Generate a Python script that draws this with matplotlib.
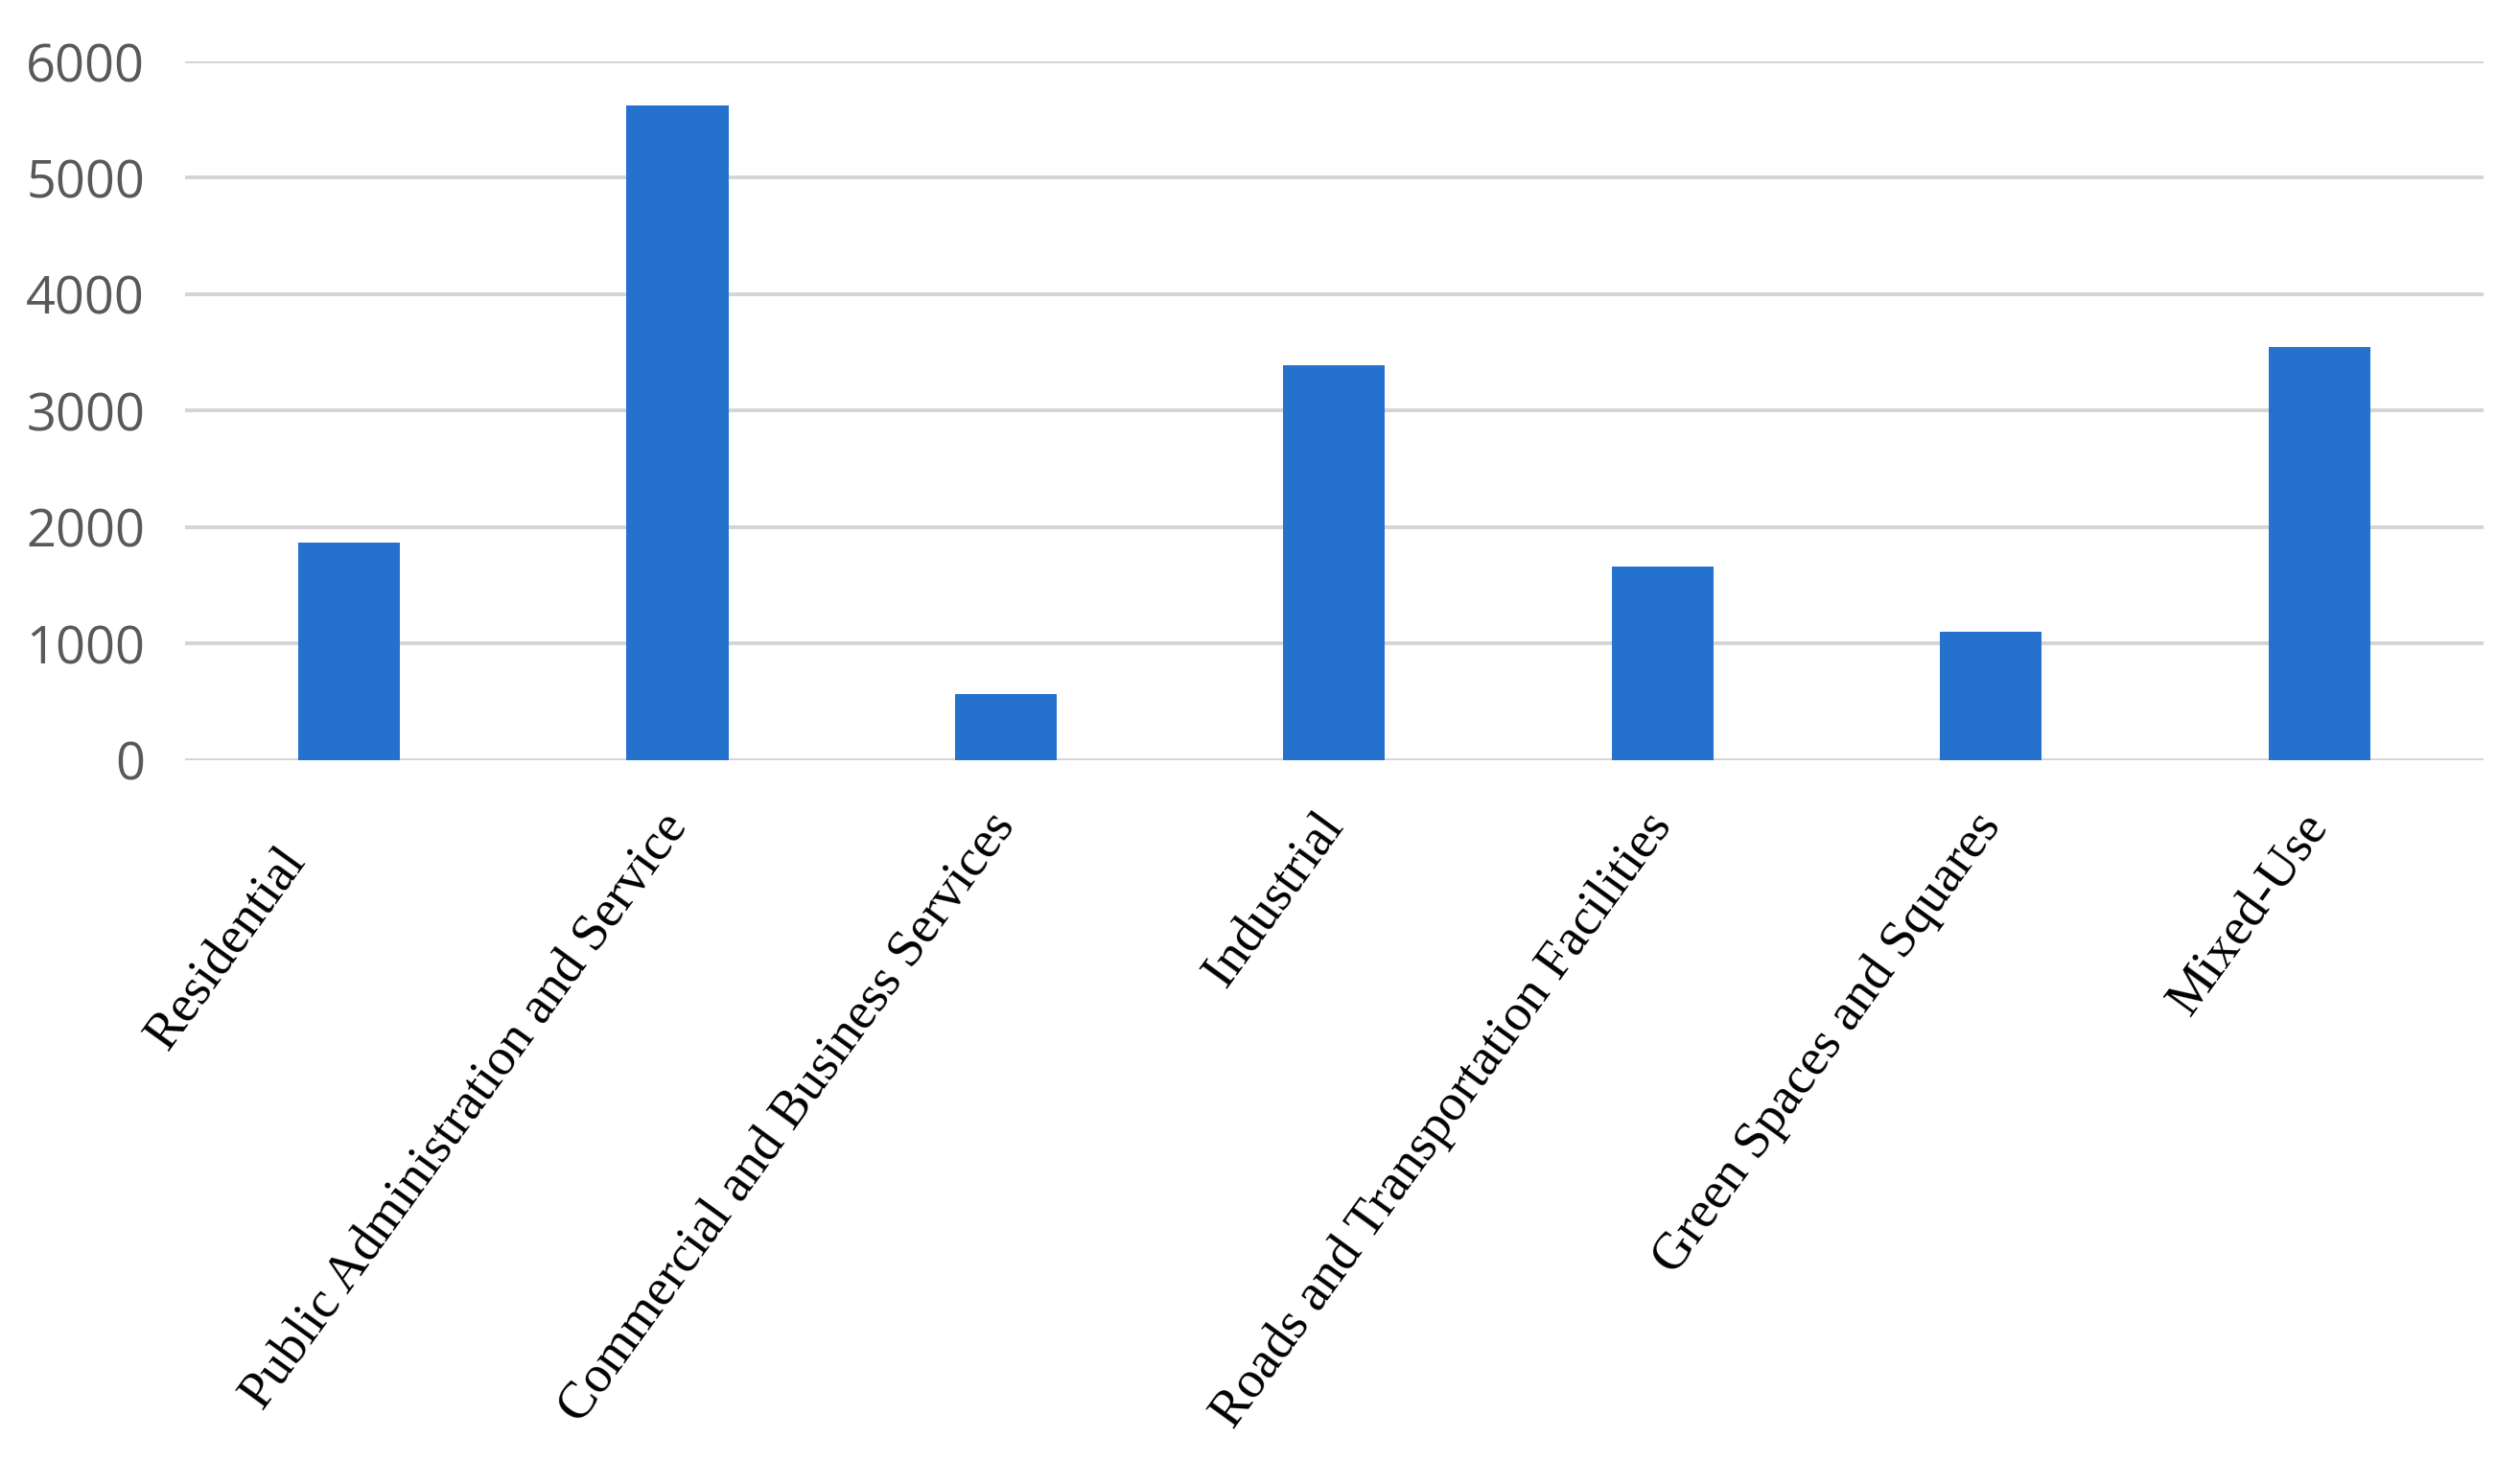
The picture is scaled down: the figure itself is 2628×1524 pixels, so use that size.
import matplotlib
matplotlib.use("Agg")
import matplotlib.pyplot as plt
import matplotlib.transforms as mtransforms
import numpy as np

# Land use categories and counts
categories = ["Residential",
              "Public Administration and Service",
              "Commercial and Business Services",
              "Industrial",
              "Roads and Transportation Facilities",
              "Green Spaces and Squares",
              "Mixed-Use"]
counts = [1870, 5620, 570, 3390, 1660, 1100, 3550]
yticks = [0, 1000, 2000, 3000, 4000, 5000, 6000]

fig = plt.figure(figsize=(26.28, 15.24), dpi=100)
ax = fig.add_axes([0.0734, 0.4797, 0.9121, 0.4783])

x = np.arange(len(categories))
ax.bar(x, counts, width=0.31, color="#2472CE", zorder=3)

ax.set_xlim(-0.5, len(categories) - 0.5)
ax.set_ylim(0, 6000)
ax.set_yticks(yticks)
ax.set_yticklabels([str(v) for v in yticks], family="Open Sans",
                   fontsize=39, color="#595959")
ax.yaxis.grid(True, color="#D4D4D4", linewidth=2.8, zorder=0)
ax.set_axisbelow(True)

ax.set_xticks(x)
ax.set_xticklabels(categories, rotation=54, ha="right", va="center",
                   rotation_mode="anchor", family="Liberation Serif",
                   fontsize=39.5, color="black")

ax.tick_params(axis="both", length=0)
ax.tick_params(axis="x", pad=44)
ax.tick_params(axis="y", pad=30)
for s in ax.spines.values():
    s.set_visible(False)

# first label sits a bit lower and further left in the original
lab0 = ax.get_xticklabels()[0]
lab0.set_transform(lab0.get_transform() +
                   mtransforms.ScaledTranslation(-0.55, -0.36, fig.dpi_scale_trans))

fig.savefig("out.png", dpi=100)
